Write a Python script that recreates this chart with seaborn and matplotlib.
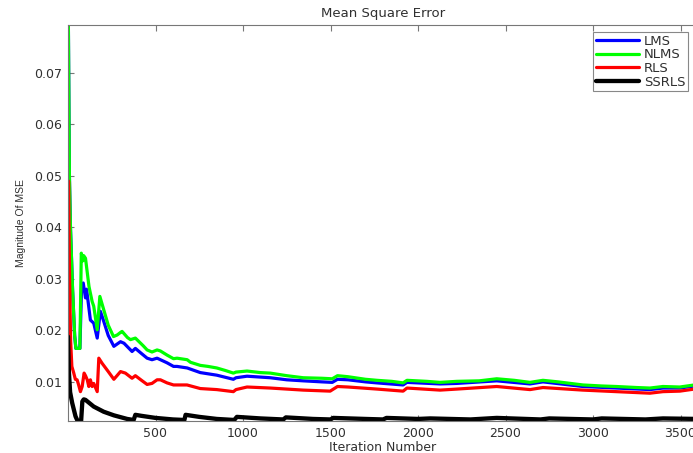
import numpy as np
import pandas as pd
import seaborn as sns
import matplotlib.pyplot as plt
from matplotlib.lines import Line2D

# ---------------- data ----------------
nlms_x = [0, 8, 14, 26, 38, 45, 68, 76, 85, 90, 100, 120, 138, 147, 167, 182, 200, 230, 260, 281, 300, 309,
          340, 357, 385, 400, 430, 452, 480, 509, 528, 566, 603, 623, 681, 700, 756, 800, 850, 900, 945, 960,
          1023, 1100, 1156, 1250, 1344, 1450, 1510, 1540, 1600, 1700, 1766, 1850, 1915, 1937, 2050, 2126,
          2222, 2350, 2450, 2550, 2640, 2714, 2800, 2942, 3050, 3133, 3250, 3325, 3400, 3496, 3600]
nlms_y = [0.09, 0.05, 0.04, 0.028, 0.019, 0.0165, 0.0165, 0.035, 0.0335, 0.0345, 0.034, 0.0285, 0.0256,
          0.0247, 0.0201, 0.0266, 0.0245, 0.021, 0.0188, 0.0191, 0.0196, 0.0198, 0.0186, 0.0182, 0.0185,
          0.018, 0.017, 0.0162, 0.0158, 0.0162, 0.016, 0.0152, 0.0145, 0.0146, 0.0143, 0.0138, 0.0132,
          0.013, 0.0127, 0.0122, 0.0117, 0.0119, 0.0121, 0.0118, 0.0117, 0.0112, 0.0108, 0.0107, 0.0106,
          0.0112, 0.011, 0.0105, 0.0103, 0.0101, 0.0098, 0.0103, 0.0101, 0.0099, 0.0101, 0.0102, 0.0106,
          0.0103, 0.0099, 0.0103, 0.01, 0.0094, 0.0092, 0.0091, 0.0089, 0.0088, 0.0091, 0.009, 0.0095]

lms_x = [0, 8, 14, 26, 38, 45, 68, 78, 87, 100, 106, 128, 147, 167, 185, 200, 230, 262, 300, 320, 366, 385,
         420, 452, 480, 509, 528, 566, 603, 623, 681, 756, 850, 945, 960, 1023, 1156, 1250, 1344, 1450, 1510,
         1540, 1600, 1700, 1766, 1915, 1937, 2126, 2222, 2450, 2640, 2714, 2942, 3133, 3325, 3400, 3496, 3600]
lms_y = [0.09, 0.05, 0.04, 0.028, 0.019, 0.0165, 0.0165, 0.029, 0.0292, 0.0263, 0.028, 0.022, 0.0214,
         0.0185, 0.0237, 0.0222, 0.019, 0.0169, 0.0178, 0.0175, 0.0159, 0.0165, 0.0155, 0.0146, 0.0143,
         0.0146, 0.0143, 0.0137, 0.013, 0.013, 0.0127, 0.0118, 0.0113, 0.0105, 0.0108, 0.0111, 0.0108,
         0.0104, 0.0102, 0.01, 0.0099, 0.0105, 0.0104, 0.01, 0.0098, 0.0094, 0.0099, 0.0096, 0.0097,
         0.0102, 0.0096, 0.01, 0.0091, 0.0088, 0.0085, 0.0088, 0.0088, 0.0093]

rls_x = [0, 3, 9, 15, 22, 33, 42, 52, 60, 71, 81, 92, 100, 110, 119, 128, 138, 147, 167, 176, 195, 230,
         262, 280, 300, 328, 366, 385, 420, 452, 480, 509, 528, 566, 603, 680, 756, 850, 945, 960, 1023,
         1156, 1250, 1344, 1498, 1540, 1600, 1766, 1915, 1937, 2126, 2222, 2450, 2640, 2714, 2942, 3133,
         3325, 3400, 3496, 3600]
rls_y = [0.0075, 0.049, 0.03, 0.018, 0.013, 0.0117, 0.0105, 0.0104, 0.0095, 0.0081, 0.0091, 0.0117,
         0.0112, 0.0104, 0.0091, 0.0104, 0.0091, 0.0097, 0.0081, 0.0146, 0.0136, 0.012, 0.0105, 0.0112,
         0.012, 0.0117, 0.0107, 0.0112, 0.0103, 0.0095, 0.0097, 0.0104, 0.0104, 0.0098, 0.0094, 0.0094,
         0.0087, 0.0085, 0.0081, 0.0085, 0.009, 0.0088, 0.0086, 0.0084, 0.0082, 0.0091, 0.009, 0.0086,
         0.0082, 0.0088, 0.0084, 0.0086, 0.0091, 0.0085, 0.0089, 0.0084, 0.0081, 0.0078, 0.0081, 0.0082,
         0.0087]

ssrls_x = [0, 5, 12, 24, 43, 55, 75, 82, 90, 100, 147, 204, 262, 338, 375, 385, 420, 500, 600, 665, 672,
           750, 850, 950, 965, 1100, 1230, 1245, 1400, 1500, 1515, 1700, 1800, 1820, 2000, 2070, 2300, 2450,
           2700, 2750, 3000, 3050, 3300, 3400, 3600]
ssrls_y = [0.0188, 0.012, 0.008, 0.0059, 0.0033, 0.0024, 0.0024, 0.0062, 0.0066, 0.0065, 0.0052, 0.0042,
           0.0035, 0.0028, 0.0026, 0.0036, 0.0034, 0.003, 0.0027, 0.0026, 0.0036, 0.0032, 0.0028, 0.0026,
           0.0032, 0.0029, 0.0027, 0.0031, 0.0028, 0.0027, 0.003, 0.0028, 0.0027, 0.003, 0.0028, 0.0029,
           0.0027, 0.003, 0.0027, 0.0029, 0.0027, 0.0029, 0.0027, 0.0029, 0.0028]

series_names = ["LMS", "NLMS", "RLS", "SSRLS"]
series_colors = ["#0000ff", "#00ff00", "#ff0000", "#000000"]
series_widths = [2.3, 2.3, 2.3, 3.1]

x_ticks = [500, 1000, 1500, 2000, 2500, 3000, 3500]
y_ticks = [0.01, 0.02, 0.03, 0.04, 0.05, 0.06, 0.07]
y_tick_labels = ["0.01", "0.02", "0.03", "0.04", "0.05", "0.06", "0.07"]

# ---------------- plot ----------------
sns.set_theme(style="white")
plt.rcParams['font.family'] = ['DejaVu Sans']

fig = plt.figure(figsize=(6.93, 4.53), dpi=100)
ax = fig.add_axes([68 / 693, 32 / 453, 630 / 693, 396 / 453])

data = [(lms_x, lms_y), (nlms_x, nlms_y), (rls_x, rls_y), (ssrls_x, ssrls_y)]
for (xs, ys), name, col, lw in zip(data, series_names, series_colors, series_widths):
    df = pd.DataFrame({"iter": xs, "mse": ys})
    sns.lineplot(data=df, x="iter", y="mse", color=col, linewidth=lw, ax=ax,
                 estimator=None, sort=False, legend=False)

ax.set_xlim(0, 3600)
ax.set_ylim(0.0024, 0.0793)
ax.set_xticks(x_ticks)
ax.set_xticklabels([str(t) for t in x_ticks])
ax.set_yticks(y_ticks)
ax.set_yticklabels(y_tick_labels)

for s in ax.spines.values():
    s.set_color("#777777")
    s.set_linewidth(0.8)

ax.tick_params(axis="both", which="both", direction="in", length=4, width=0.8,
               color="#777777", labelsize=9, labelcolor="#303030", top=True, left=True,
               bottom=True, right=False, pad=4)

ax.set_title("Mean Square Error", fontsize=9.5, color="#303030", pad=6)
ax.set_xlabel("Iteration Number", fontsize=9, color="#303030", labelpad=1)
ax.set_ylabel("Magnitude Of MSE", fontsize=7.5, color="#303030", labelpad=6,
              family=["Liberation Sans", "DejaVu Sans"])

handles = [Line2D([0], [0], color=c, linewidth=lw) for c, lw in zip(series_colors, series_widths)]
leg = ax.legend(handles, series_names, loc="upper right",
                bbox_to_anchor=(688 / 693, 1 - 32 / 453), bbox_transform=fig.transFigure,
                fontsize=9.5, frameon=True, fancybox=False, framealpha=1,
                edgecolor="#888888", handlelength=3.3, handletextpad=0.35,
                labelspacing=0.05, borderpad=0.2, borderaxespad=0)
leg.get_frame().set_linewidth(0.8)
for t in leg.get_texts():
    t.set_color("#303030")

fig.savefig("out.png", dpi=100)
